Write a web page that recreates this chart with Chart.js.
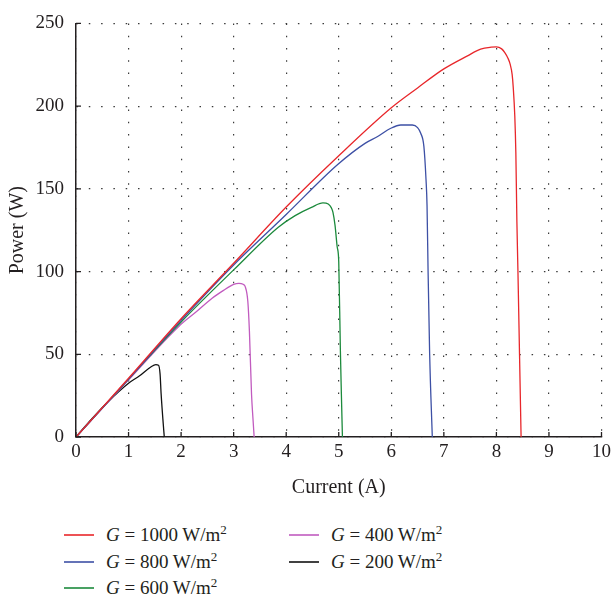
<!DOCTYPE html>
<html>
<head>
<meta charset="utf-8">
<script src="https://cdn.jsdelivr.net/npm/chart.js@4/dist/chart.umd.min.js"></script>
<style>
  html, body { margin: 0; padding: 0; background: #fff; }
  body { width: 615px; height: 598px; position: relative; overflow: hidden; font-family: "Liberation Serif", "DejaVu Serif", serif; }
  #wrap { position: absolute; left: 0; top: 0; width: 615px; height: 510px; }
  .lg { position: absolute; height: 24px; font-size: 19px; color: #231f20; white-space: nowrap; }
  .lg .sw { position: absolute; left: 0; top: 11px; width: 30px; height: 2px; }
  .lg .tx { position: absolute; left: 42px; top: 0; line-height: 24px; }
  .lg sup { font-size: 13px; vertical-align: 0; position: relative; top: -7px; }
</style>
</head>
<body>
<div id="wrap"><canvas id="c"></canvas></div>
<div id="legend"></div>
<script>
// ---- data ----
const seriesLabels = ["1000", "800", "600", "400", "200"];
const seriesColors = ["#e8272b", "#3d50a5", "#1c8a3c", "#c15bbf", "#111111"];

const g1000_x = [0, 1, 2, 3, 4, 5, 6, 6.5, 7, 7.45, 7.7, 7.9, 8.0, 8.1, 8.16, 8.22, 8.26, 8.3, 8.32, 8.35, 8.37, 8.39, 8.41, 8.44, 8.47];
const g1000_y = [0, 35.5, 71.5, 105, 139, 170, 199, 211, 222.5, 230.4, 234.4, 235.6, 235.8, 234.6, 232.4, 229, 225.5, 219, 211.5, 194, 172, 130, 100, 50, 0];

const g800_x = [0, 1, 2, 3, 4, 4.98, 5.5, 5.74, 5.99, 6.18, 6.4, 6.5, 6.56, 6.62, 6.66, 6.68, 6.70, 6.73, 6.78];
const g800_y = [0, 35, 70.5, 104, 134.5, 164.7, 177.5, 181.6, 186.6, 188.6, 188.6, 187, 183.6, 175.7, 156, 140, 100, 50, 0];

const g600_x = [0, 1, 2, 3, 3.85, 4.17, 4.48, 4.7, 4.8, 4.86, 4.89, 4.93, 4.97, 5.0, 5.03, 5.05, 5.07];
const g600_y = [0, 35, 69.5, 101, 126.8, 133.8, 138.8, 141.5, 140.8, 138.5, 135.8, 127.8, 115, 105.9, 54, 26, 0];

const g400_x = [0, 1, 1.96, 2.3, 2.59, 2.8, 3.0, 3.1, 3.18, 3.22, 3.27, 3.3, 3.34, 3.37, 3.39];
const g400_y = [0, 34.5, 67, 76, 83.9, 88.5, 92.3, 92.9, 92.3, 90.9, 81.9, 64, 26, 10, 0];

const g200_x = [0, 0.26, 0.6, 1.0, 1.21, 1.43, 1.52, 1.57, 1.6, 1.62, 1.66, 1.68];
const g200_y = [0, 9.5, 21, 32.5, 37, 42.5, 43.7, 43.4, 38, 26, 8, 0];

const xTicks = [0, 1, 2, 3, 4, 5, 6, 7, 8, 9, 10];
const yTicks = [0, 50, 100, 150, 200, 250];
const xTitle = "Current (A)";
const yTitle = "Power (W)";

// ---- build ----
const xs = [g1000_x, g800_x, g600_x, g400_x, g200_x];
const ys = [g1000_y, g800_y, g600_y, g400_y, g200_y];
const datasets = seriesLabels.map((lab, i) => ({
  label: "G = " + lab + " W/m²",
  data: xs[i].map((x, j) => ({ x: x, y: ys[i][j] })),
  borderColor: seriesColors[i],
  backgroundColor: seriesColors[i],
  borderWidth: 1.3,
  pointRadius: 0,
  showLine: true,
  cubicInterpolationMode: 'monotone',
  fill: false
}));

const FONT = "'Liberation Serif', 'DejaVu Serif', serif";

const innerTicks = {
  id: 'innerTicks',
  afterDraw(chart) {
    const ctx = chart.ctx, ca = chart.chartArea;
    const sx = chart.scales.x, sy = chart.scales.y;
    ctx.save();
    ctx.strokeStyle = '#231f20';
    ctx.lineWidth = 1.3;
    ctx.beginPath();
    xTicks.forEach(v => { const p = sx.getPixelForValue(v); ctx.moveTo(p, ca.bottom); ctx.lineTo(p, ca.bottom - 5); });
    yTicks.forEach(v => { const p = sy.getPixelForValue(v); ctx.moveTo(ca.left, p); ctx.lineTo(ca.left + 5, p); });
    ctx.stroke();
    ctx.restore();
  }
};

new Chart(document.getElementById('c'), {
  type: 'scatter',
  data: { datasets },
  plugins: [innerTicks],
  options: {
    responsive: true,
    maintainAspectRatio: false,
    animation: false,
    layout: { padding: { top: 19, right: 10, left: 0, bottom: 0 } },
    plugins: { legend: { display: false }, tooltip: { enabled: false } },
    scales: {
      x: {
        type: 'linear', min: 0, max: 10,
        afterFit(s) { s.height = 73; },
        afterBuildTicks(s) { s.ticks = xTicks.map(v => ({ value: v })); },
        ticks: { color: '#231f20', font: { family: FONT, size: 19 }, padding: 4 },
        grid: { color: '#3a3a3a', lineWidth: 1.2, drawTicks: false },
        border: { display: true, color: '#231f20', width: 1.5, dash: [1.5, 10.8] },
        title: { display: true, text: xTitle, color: '#231f20', font: { family: FONT, size: 20 }, padding: { top: 6, bottom: 10 } }
      },
      y: {
        type: 'linear', min: 0, max: 250,
        afterFit(s) { s.width = 76; },
        afterBuildTicks(s) { s.ticks = yTicks.map(v => ({ value: v })); },
        ticks: { color: '#231f20', font: { family: FONT, size: 19 }, padding: 12 },
        grid: { color: '#3a3a3a', lineWidth: 1.2, drawTicks: false },
        border: { display: true, color: '#231f20', width: 1.5, dash: [1.5, 10.8] },
        title: { display: true, text: yTitle, color: '#231f20', font: { family: FONT, size: 20 }, padding: { top: 6, bottom: 0 } }
      }
    }
  }
});

// ---- HTML legend (column layout like the reference) ----
const legendPos = [[64, 523], [64, 550], [64, 576], [289, 523], [289, 550]];
const lg = document.getElementById('legend');
seriesLabels.forEach((lab, i) => {
  const d = document.createElement('div');
  d.className = 'lg';
  d.style.left = legendPos[i][0] + 'px';
  d.style.top = legendPos[i][1] + 'px';
  d.innerHTML = '<span class="sw" style="background:' + seriesColors[i] + ';opacity:0.8"></span>' +
    '<span class="tx"><i>G</i> = ' + lab + ' W/m<sup>2</sup></span>';
  lg.appendChild(d);
});
</script>
</body>
</html>
